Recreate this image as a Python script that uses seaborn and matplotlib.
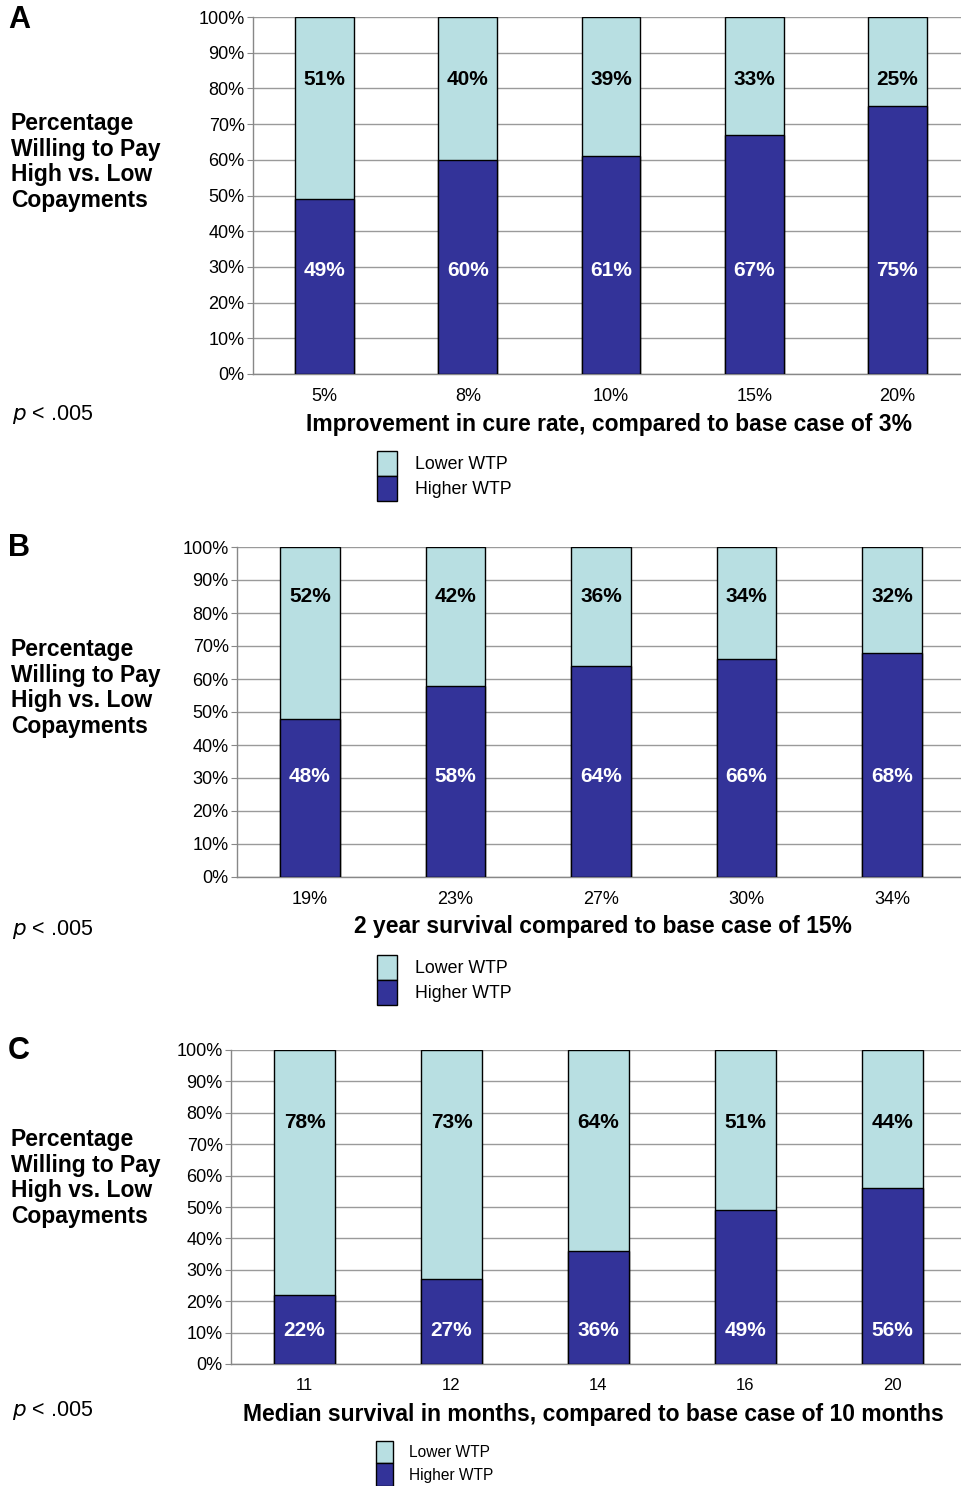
import matplotlib
matplotlib.use("Agg")
import matplotlib.pyplot as plt
from matplotlib.patches import Patch
from matplotlib.ticker import FixedLocator, PercentFormatter
import seaborn as sns
import pandas as pd

# panel A: improvement in cure rate
cure_cats = ["5%", "8%", "10%", "15%", "20%"]
cure_higher = [49, 60, 61, 67, 75]
cure_lower = [51, 40, 39, 33, 25]

# panel B: 2 year survival
surv_cats = ["19%", "23%", "27%", "30%", "34%"]
surv_higher = [48, 58, 64, 66, 68]
surv_lower = [52, 42, 36, 34, 32]

# panel C: median survival in months
median_cats = ["11", "12", "14", "16", "20"]
median_higher = [22, 27, 36, 49, 56]
median_lower = [78, 73, 64, 51, 44]

LIGHT = "#b8dfe2"
DARK = "#333399"
W, H = 962, 1486

sns.set_style("white")
plt.rcParams["font.family"] = ["Liberation Sans", "DejaVu Sans"]
plt.rcParams["text.color"] = "black"
plt.rcParams["xtick.color"] = "black"
plt.rcParams["ytick.color"] = "black"

fig = plt.figure(figsize=(W / 100, H / 100), dpi=100)


def px(x, y):
    """pixel coords (from top-left) -> figure fraction"""
    return x / W, 1 - y / H


def panel(letter, cats, higher, lower, box, letter_y, ylab_y, p_y, xtitle, xt_pos,
          up_frac, low_frac, leg_y, tick_fs=13, leg_fs=12.8, hh=1.75):
    left, top, right, bottom = box
    ax = fig.add_axes([left / W, 1 - bottom / H, (right - left) / W, (bottom - top) / H])
    df = pd.DataFrame({"cat": cats, "higher": higher, "lower": lower})
    df["total"] = df["higher"] + df["lower"]

    # light bar = full stack, dark bar drawn over it
    sns.barplot(data=df, x="cat", y="total", order=cats, color=LIGHT, width=0.41,
                edgecolor="black", linewidth=1, saturation=1, errorbar=None, ax=ax, zorder=3)
    sns.barplot(data=df, x="cat", y="higher", order=cats, color=DARK, width=0.41,
                edgecolor="black", linewidth=1, saturation=1, errorbar=None, ax=ax, zorder=3)

    for i, (h, l) in enumerate(zip(higher, lower)):
        ax.text(i, up_frac, f"{l}%", ha="center", va="center", fontsize=15,
                fontweight="bold", color="black", zorder=5)
        ax.text(i, low_frac, f"{h}%", ha="center", va="center", fontsize=15,
                fontweight="bold", color="white", zorder=5)

    ax.set_xlim(-0.5, len(cats) - 0.5)
    ax.set_ylim(0, 100)
    ax.set_yticks(range(0, 101, 10))
    ax.yaxis.set_major_formatter(PercentFormatter(decimals=0))
    ax.grid(axis="y", color="#9a9a9a", linewidth=1, zorder=0)
    ax.grid(axis="x", visible=False)
    ax.xaxis.set_minor_locator(FixedLocator([i + 0.5 for i in range(len(cats) - 1)]))
    ax.tick_params(axis="x", which="major", length=0, pad=10, labelsize=tick_fs)
    ax.tick_params(axis="x", which="minor", length=5, color="#888888", direction="out")
    ax.tick_params(axis="y", length=4, color="#888888", labelcolor="black", direction="out",
                   pad=2, labelsize=13, left=True)
    ax.set_xlabel("")
    ax.set_ylabel("")
    for s in ["top", "right"]:
        ax.spines[s].set_visible(False)
    for s in ["left", "bottom"]:
        ax.spines[s].set_color("#888888")
        ax.spines[s].set_linewidth(1)

    fig.text(*px(8, letter_y), letter, fontsize=22, fontweight="bold", va="center", ha="left")
    fig.text(*px(11, ylab_y), "Percentage\nWilling to Pay\nHigh vs. Low\nCopayments",
             fontsize=16.5, fontweight="bold", va="top", ha="left", linespacing=1.15)
    fig.text(*px(12, p_y), r"$p$ < .005", fontsize=15.5, va="center", ha="left")
    ha = "center" if xt_pos[2] == "c" else "left"
    fig.text(*px(xt_pos[0], xt_pos[1]), xtitle, fontsize=16.5, fontweight="bold",
             va="center", ha=ha)

    handles = [Patch(facecolor=LIGHT, edgecolor="black", linewidth=1, label="Lower WTP"),
               Patch(facecolor=DARK, edgecolor="black", linewidth=1, label="Higher WTP")]
    fig.legend(handles=handles, loc="upper left", bbox_to_anchor=px(365, leg_y),
               frameon=False, fontsize=leg_fs, handlelength=1.1, handleheight=hh,
               labelspacing=0.0, handletextpad=1.0, borderpad=0.2)
    return ax


panel("A", cure_cats, cure_higher, cure_lower, (253, 17, 969, 374), 20, 112, 414,
      "Improvement in cure rate, compared to base case of 3%", (609, 424, "c"),
      82.4, 29, 439)
panel("B", surv_cats, surv_higher, surv_lower, (237, 547, 965, 877), 548, 638, 930,
      "2 year survival compared to base case of 15%", (603, 927, "c"),
      85, 30.6, 943)
panel("C", median_cats, median_higher, median_lower, (231, 1050, 966, 1364), 1051, 1128, 1410,
      "Median survival in months, compared to base case of 10 months", (243, 1415, "l"),
      77, 10.8, 1430, tick_fs=12, leg_fs=11.2, hh=1.85)

fig.savefig("out.png", dpi=100)
